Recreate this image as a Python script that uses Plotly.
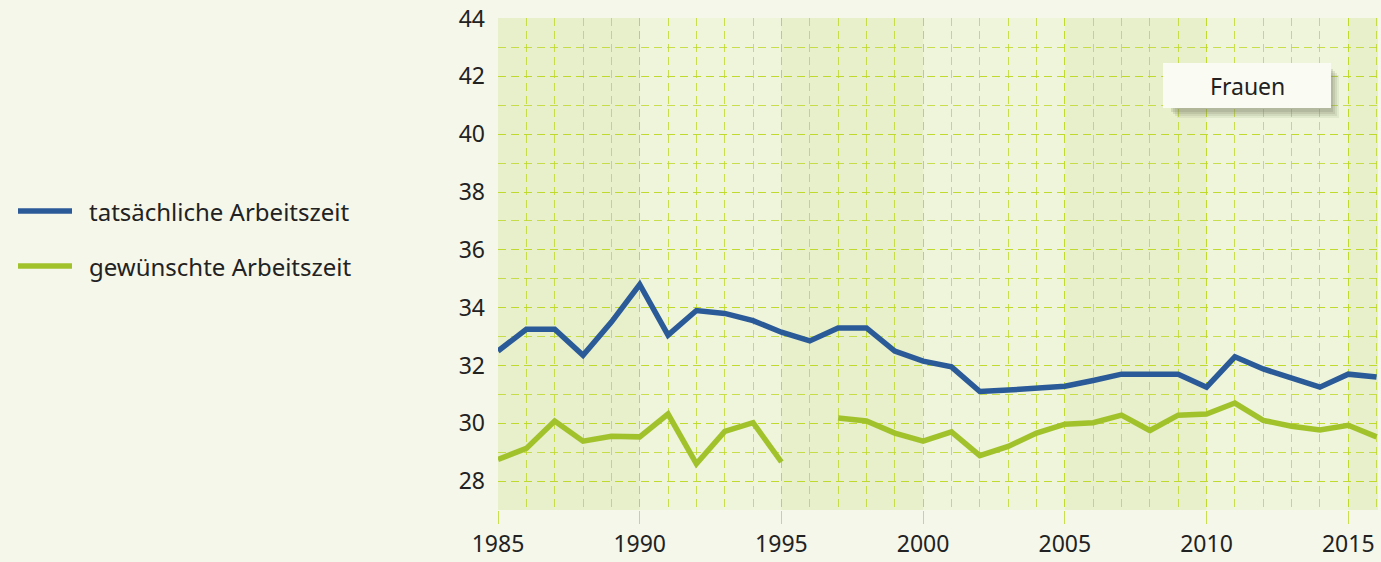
import plotly.graph_objects as go

years = list(range(1985, 2017))
tatsaechlich = [32.5, 33.25, 33.25, 32.35, 33.5, 34.8, 33.05, 33.9, 33.8, 33.55, 33.15,
                32.85, 33.3, 33.3, 32.5, 32.15, 31.95, 31.1, 31.15, 31.22, 31.28, 31.48,
                31.7, 31.7, 31.7, 31.25, 32.3, 31.88, 31.57, 31.25, 31.7, 31.6]
gewuenscht = [28.75, 29.13, 30.08, 29.38, 29.55, 29.53, 30.32, 28.6, 29.72, 30.02, 28.66,
              None, 30.18, 30.08, 29.66, 29.38, 29.7, 28.88, 29.2, 29.66, 29.97, 30.02,
              30.28, 29.75, 30.28, 30.32, 30.7, 30.1, 29.9, 29.77, 29.93, 29.53]
series_names = ["tatsächliche Arbeitszeit", "gewünschte Arbeitszeit"]
panel_label = "Frauen"
x_ticks = [1985, 1990, 1995, 2000, 2005, 2010, 2015]
y_ticks = [28, 30, 32, 34, 36, 38, 40, 42, 44]

BLUE = "#2b5a98"
GREEN = "#a2c22c"
BG = "#f5f7eb"
BAND_LIGHT = "#eef5da"
BAND_DARK = "#e7efcb"
GRID = "rgba(190,216,40,0.8)"
TEXT = "#222222"
FONT = "Noto Sans"
DASH = "8px,5px"

fig = go.Figure()
fig.add_trace(go.Scatter(x=years, y=tatsaechlich, mode="lines", name=series_names[0],
                         line=dict(color=BLUE, width=5.5), connectgaps=False))
fig.add_trace(go.Scatter(x=years, y=gewuenscht, mode="lines", name=series_names[1],
                         line=dict(color=GREEN, width=5.5), connectgaps=False))

shapes = []
for start in range(1985, 2017, 10):
    shapes.append(dict(type="rect", xref="x", yref="paper", x0=start, x1=min(start + 5, 2016.05),
                       y0=0, y1=1, fillcolor=BAND_DARK, line=dict(width=0), layer="below"))

fig.update_layout(
    width=1381, height=562,
    margin=dict(l=498, r=3, t=18, b=52),
    paper_bgcolor=BG, plot_bgcolor=BAND_LIGHT,
    showlegend=False,
    font=dict(family=FONT, size=23, color=TEXT),
    xaxis=dict(range=[1985, 2016.05], tickmode="array", tickvals=x_ticks,
               ticks="outside", ticklen=13, tickwidth=1, tickcolor=GRID,
               showgrid=True, gridcolor=GRID, griddash=DASH, gridwidth=1,
               minor=dict(dtick=1, tick0=1985, showgrid=True, gridcolor=GRID, griddash=DASH, gridwidth=1),
               zeroline=False, showline=False, tickfont=dict(size=23, color=TEXT)),
    yaxis=dict(range=[27, 44.02], tickmode="array", tickvals=y_ticks,
               ticks="", showgrid=True, gridcolor=GRID, griddash=DASH, gridwidth=1,
               minor=dict(dtick=1, tick0=27, showgrid=True, gridcolor=GRID, griddash=DASH, gridwidth=1),
               zeroline=False, showline=False, ticklabelstandoff=12, tickfont=dict(size=23, color=TEXT)),
)

annotations = []
pw = 1381 - 498 - 3
ph = 562 - 18 - 52
def px_to_paper(px, py):
    return (px - 498) / pw, 1 - (py - 18) / ph

for nm, col, py in zip(series_names, [BLUE, GREEN], [211, 266]):
    x0, y0 = px_to_paper(18, py)
    x1, _ = px_to_paper(72, py)
    shapes.append(dict(type="line", xref="paper", yref="paper", x0=x0, x1=x1, y0=y0, y1=y0,
                       line=dict(color=col, width=5.5)))
    tx, _ = px_to_paper(87, py)
    annotations.append(dict(xref="paper", yref="paper", x=tx, y=y0, text=nm, showarrow=False,
                            xanchor="left", yanchor="middle", font=dict(size=24, color=TEXT)))

bx0, by0 = px_to_paper(1163, 63)
bx1, by1 = px_to_paper(1331, 108)
for off, op in [(10, 0.10), (8, 0.14), (6, 0.18), (4, 0.2)]:
    sx0, sy0 = px_to_paper(1163 + off + 4, 63 + off + 2)
    sx1, sy1 = px_to_paper(1331 + off - 2, 108 + off)
    shapes.append(dict(type="rect", xref="paper", yref="paper", x0=sx0, x1=sx1, y0=sy0, y1=sy1,
                       fillcolor=f"rgba(120,125,100,{op})", line=dict(width=0)))
shapes.append(dict(type="rect", xref="paper", yref="paper", x0=bx0, x1=bx1, y0=by0, y1=by1,
                   fillcolor="#fafcf3", line=dict(width=0)))
annotations.append(dict(xref="paper", yref="paper", x=(bx0 + bx1) / 2, y=(by0 + by1) / 2,
                        text=panel_label, showarrow=False, xanchor="center", yanchor="middle",
                        font=dict(size=23, color=TEXT)))

fig.update_layout(shapes=shapes, annotations=annotations)
fig.write_html("out.html", config={"displayModeBar": False},
               post_script="document.body.style.margin='0';document.body.style.background='#f5f7eb';")
